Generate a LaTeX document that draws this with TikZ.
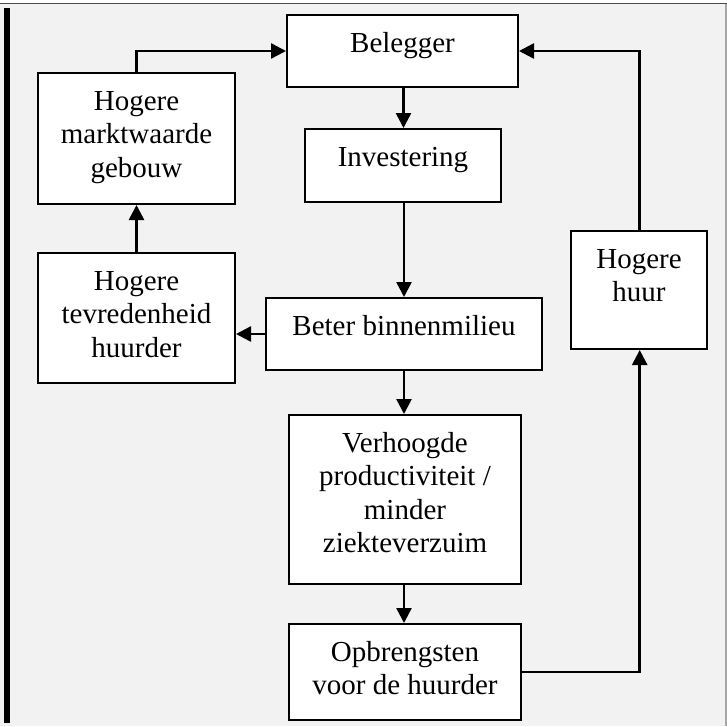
\documentclass[tikz,border=0pt]{standalone}
\usepackage{fontspec}
\setmainfont{Liberation Serif}
\usetikzlibrary{arrows.meta}
\definecolor{panel}{HTML}{F2F2F2}
\begin{document}
\begin{tikzpicture}[x=1pt,y=-1pt,
  box/.style={draw=black, line width=2pt, fill=white, inner sep=0pt, anchor=north west},
  lbl/.style={inner sep=0pt, anchor=base, font=\fontsize{29}{33.5}\selectfont},
  flow/.style={line width=2.5pt, -{Triangle[length=15pt,width=15pt]}},
  flowline/.style={line width=2.5pt}]
  \useasboundingbox (0,0) rectangle (727,726);
  % panel background and frame
  \fill[panel] (0,4) rectangle (727,726);
  \draw[line width=1.5pt, black!70] (0,3.5) -- (727,3.5);
  \draw[line width=1.5pt, black!35] (726,4) -- (726,726);
  \draw[line width=5.4pt, black] (7,8) -- (7,723);

  % boxes
  \node[box, minimum width=231pt, minimum height=72pt] (bel) at (286,14) {};
  \node[box, minimum width=197pt, minimum height=131pt] (markt) at (37,72) {};
  \node[box, minimum width=196pt, minimum height=73pt] (inv) at (304,128) {};
  \node[box, minimum width=136pt, minimum height=118pt] (huur) at (570,230) {};
  \node[box, minimum width=197pt, minimum height=130pt] (tev) at (37,252) {};
  \node[box, minimum width=276pt, minimum height=72pt] (beter) at (265,297) {};
  \node[box, minimum width=232pt, minimum height=169pt] (verh) at (288,414) {};
  \node[box, minimum width=232pt, minimum height=96pt] (opb) at (288,623) {};

  % labels (first baseline 38pt below the box top)
  \node[lbl] (bel-t) at ([yshift=-38pt]bel.north) {Belegger};
  \node[lbl] (markt-t) at ([yshift=-38pt]markt.north) {\parbox[t]{190pt}{\centering Hogere\\marktwaarde\\gebouw}};
  \node[lbl] (inv-t) at ([yshift=-38pt]inv.north) {Investering};
  \node[lbl] (huur-t) at ([yshift=-38pt]huur.north) {\parbox[t]{130pt}{\centering Hogere\\huur}};
  \node[lbl] (tev-t) at ([yshift=-38pt]tev.north) {\parbox[t]{190pt}{\centering Hogere\\tevredenheid\\huurder}};
  \node[lbl] (beter-t) at ([yshift=-38pt]beter.north) {Beter binnenmilieu};
  \node[lbl] (verh-t) at ([yshift=-38pt]verh.north) {\parbox[t]{228pt}{\centering Verhoogde\\productiviteit /\\minder\\ziekteverzuim}};
  \node[lbl] (opb-t) at ([yshift=-38pt]opb.north) {\parbox[t]{228pt}{\centering Opbrengsten\\voor de huurder}};

  % connectors
  \coordinate (topL) at (markt.north |- bel.west);
  \coordinate (topR) at ([xshift=0.7pt]huur.north |- bel.east);
  \coordinate (rightB) at ([xshift=0.7pt]huur.south |- opb.east);
  \draw[flow] (markt.north) -- (topL) -- (bel.west);
  \draw[flow] ([xshift=0.7pt]huur.north) -- (topR) -- (bel.east);
  \draw[flow] ([xshift=1pt]bel.south) -- ([xshift=1pt]bel.south |- inv.north);
  \draw[flow] ([xshift=1pt]inv.south) -- ([xshift=1pt]inv.south |- beter.north);
  \draw[flow] (beter.west) -- (beter.west -| tev.east);
  \draw[flow] (tev.north) -- (markt.south);
  \draw[flow] (beter.south) -- (beter.south |- verh.north);
  \draw[flow] ([xshift=-1pt]verh.south) -- ([xshift=-1pt]opb.north);
  \draw[flow] (opb.east) -- (rightB) -- ([xshift=0.7pt]huur.south);
\end{tikzpicture}
\end{document}
